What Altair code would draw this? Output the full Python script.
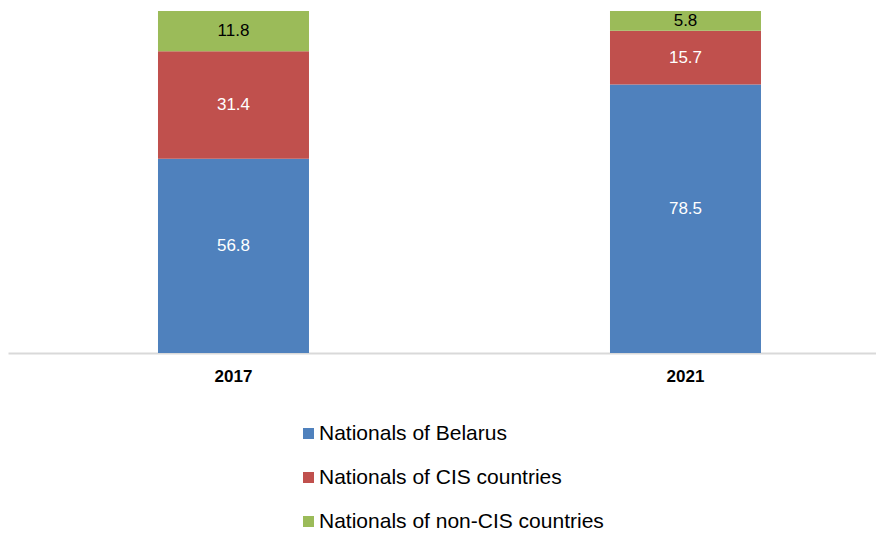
import altair as alt
import pandas as pd

years = ["2017", "2021"]
series = ["Nationals of Belarus", "Nationals of CIS countries", "Nationals of non-CIS countries"]
belarus = [56.8, 78.5]
cis = [31.4, 15.7]
non_cis = [11.8, 5.8]
colors = ["#4f81bd", "#c0504d", "#9bbb59"]

rows = []
for i, y in enumerate(years):
    for k, (s, vals) in enumerate(zip(series, [belarus, cis, non_cis])):
        rows.append({"year": y, "series": s, "value": vals[i], "order": k})
df = pd.DataFrame(rows)

FONT = "Liberation Sans"

x_enc = alt.X(
    "year:N",
    sort=years,
    scale=alt.Scale(paddingInner=0.66593, paddingOuter=0.29314, align=0.566),
    axis=alt.Axis(
        title=None, labelAngle=0, labelFont=FONT, labelFontSize=17,
        labelFontWeight="bold", labelColor="#000000", domainColor="#d9d9d9",
        domainWidth=2, ticks=False, labelPadding=15, grid=False,
    ),
)

bars = alt.Chart(df).mark_bar().encode(
    x=x_enc,
    y=alt.Y("value:Q", stack="zero", scale=alt.Scale(domain=[0, 100]), axis=None),
    color=alt.Color(
        "series:N",
        scale=alt.Scale(domain=series, range=colors),
        legend=alt.Legend(
            orient="none", legendX=290, legendY=412, title=None,
            symbolType="square", symbolSize=121, symbolStrokeWidth=0,
            labelFont=FONT, labelFontSize=21, labelColor="#000000",
            labelLimit=0, rowPadding=22, labelOffset=0, padding=0,
            direction="vertical",
        ),
    ),
    order=alt.Order("order:Q", sort="ascending"),
)

base = alt.Chart(df).transform_stack(
    stack="value", groupby=["year"], as_=["y0", "y1"],
    sort=[alt.SortField("order", "ascending")],
).transform_calculate(mid="(datum.y0 + datum.y1) / 2")

label_styles = [(series[0], "#ffffff", -10), (series[1], "#ffffff", 0), (series[2], "#000000", 0)]
text_layers = []
for s, c, dy in label_styles:
    text_layers.append(
        base.transform_filter(alt.datum.series == s).mark_text(
            font=FONT, fontSize=17, color=c, dy=dy
        ).encode(
            x=alt.X("year:N", sort=years),
            y=alt.Y("mid:Q"),
            text=alt.Text("value:Q", format=".1f"),
        )
    )

chart = alt.layer(bars, *text_layers).properties(
    width=868, height=342,
    autosize=alt.AutoSizeParams(type="none"),
    padding={"left": 0, "top": 3, "right": 0, "bottom": 181},
).configure_view(stroke=None)

chart.save("out.html", embed_options={"renderer": "svg", "actions": False})
